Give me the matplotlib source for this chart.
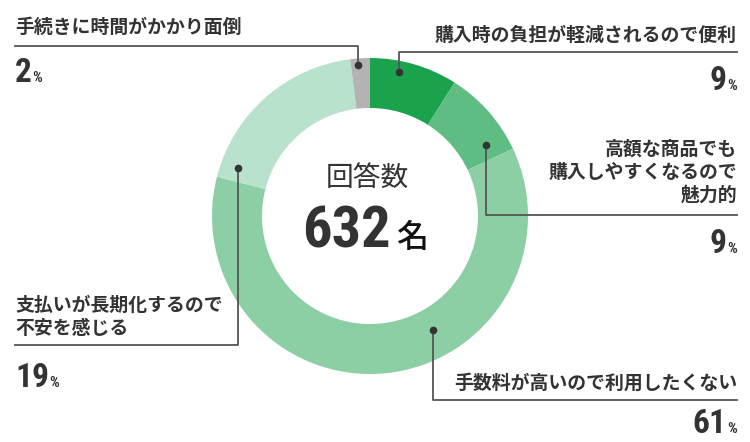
import matplotlib.pyplot as plt
import numpy as np

# data
labels = ["購入時の負担が軽減されるので便利",
          "高額な商品でも\n購入しやすくなるので\n魅力的",
          "手数料が高いので利用したくない",
          "支払いが長期化するので\n不安を感じる",
          "手続きに時間がかかり面倒"]
shares = [9, 9, 61, 19, 2]
colors = ["#1aa24c", "#5fbd83", "#8ccfa5", "#b8e2cc", "#b3b3b3"]
total_label = "回答数"
total_n = "632"

JP = ["Noto Sans CJK JP", "DejaVu Sans"]
NUM = ["Roboto Condensed", "DejaVu Sans"]
TXT = "#333333"
LINE = "#555555"

# layout in pixel coords (y down)
cx, cy, R, W = 370, 216, 158, 50
# per slice: dot (angle from top clockwise in deg, radius), label side, label y, underline y, pct baseline y
layout = [
    dict(ang=11.4, r=147, side="R", ly=35, uy=52, py=90),
    dict(ang=58.5, r=136, side="R", ly=172, uy=215, py=253),
    dict(ang=151.0, r=130, side="R", ly=383, uy=400, py=433),
    dict(ang=290.0, r=141, side="L", ly=317, uy=345, py=387),
    dict(ang=355.5, r=151, side="L", ly=27, uy=46, py=82),
]
XL, XR = 15, 737

fig = plt.figure(figsize=(7.5, 4.42), dpi=100)
ax = fig.add_axes([0, 0, 1, 1])

# y axis is inverted, so clockwise on screen = counterclock in data
ax.pie(shares, colors=colors, center=(cx, cy), radius=R, startangle=270,
       counterclock=True, wedgeprops=dict(width=W, linewidth=0))
ax.set_xlim(0, 750)
ax.set_ylim(442, 0)
ax.set_aspect("auto")
ax.axis("off")

for lab, pct, L in zip(labels, shares, layout):
    a = np.deg2rad(L["ang"])
    dx = cx + L["r"] * np.sin(a)
    dy = cy - L["r"] * np.cos(a)
    ax.plot(dx, dy, "o", color="#333333", ms=4.5, zorder=5)
    if L["side"] == "R":
        ax.plot([dx, dx, XR], [dy, L["uy"], L["uy"]], color=LINE, lw=1.3, zorder=4)
        ax.text(XR, L["ly"], lab, ha="right", va="center", fontsize=13.6,
                family=JP, weight="bold", color=TXT, linespacing=1.27)
        p = ax.text(XR, L["py"], "%", ha="right", va="baseline", fontsize=11,
                    family=NUM, weight="bold", color=TXT)
        ax.annotate(str(pct), xy=(0, L["py"]), xycoords=(p, "data"), xytext=(-0.3, 0),
                    textcoords="offset points", ha="right", va="baseline",
                    fontsize=24, family=NUM, weight="bold", color=TXT)
    else:
        ax.plot([dx, dx, XL], [dy, L["uy"], L["uy"]], color=LINE, lw=1.3, zorder=4)
        ax.text(XL, L["ly"], lab, ha="left", va="center", fontsize=13.6,
                family=JP, weight="bold", color=TXT, linespacing=1.27)
        n = ax.text(XL, L["py"], str(pct), ha="left", va="baseline", fontsize=24,
                    family=NUM, weight="bold", color=TXT)
        ax.annotate("%", xy=(1, L["py"]), xycoords=(n, "data"), xytext=(0.3, 0),
                    textcoords="offset points", ha="left", va="baseline",
                    fontsize=11, family=NUM, weight="bold", color=TXT)

# center text
ax.text(367, 178, total_label, ha="center", va="center", fontsize=20,
        family=JP, color=TXT)
num = ax.text(391, 247, total_n, ha="right", va="baseline", fontsize=42,
              family=NUM, weight="bold", color=TXT)
ax.annotate("名", xy=(1, 247), xycoords=(num, "data"), xytext=(3.5, 0),
            textcoords="offset points", ha="left", va="baseline", fontsize=23,
            family=JP, weight="medium", color="#111111")

fig.savefig("out.png", dpi=100)
